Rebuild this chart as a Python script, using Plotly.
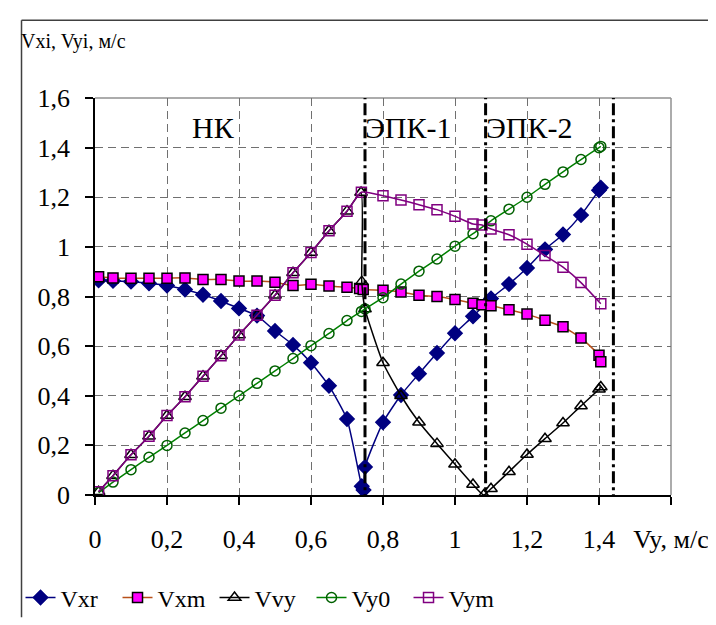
import plotly.graph_objects as go

# ---------------- data ----------------
vxr_x = [0.01, 0.05, 0.1, 0.15, 0.2, 0.25, 0.3, 0.35, 0.4, 0.45, 0.5, 0.55, 0.6, 0.65, 0.7,
         0.741, 0.746, 0.75, 0.8, 0.85, 0.9, 0.95, 1.0, 1.05, 1.1, 1.15, 1.2, 1.25, 1.3, 1.35, 1.4, 1.405]
vxr_y = [0.865, 0.863, 0.86, 0.853, 0.844, 0.828, 0.807, 0.782, 0.752, 0.723, 0.661, 0.605, 0.533, 0.44, 0.306,
         0.035, 0.02, 0.113, 0.293, 0.403, 0.489, 0.572, 0.652, 0.72, 0.792, 0.85, 0.915, 0.99, 1.05, 1.128, 1.228, 1.238]

vxm_x = [0.01, 0.05, 0.1, 0.15, 0.2, 0.25, 0.3, 0.35, 0.4, 0.45, 0.5, 0.55, 0.6, 0.65, 0.7,
         0.735, 0.745, 0.8, 0.85, 0.9, 0.95, 1.0, 1.05, 1.075, 1.1, 1.15, 1.2, 1.25, 1.3, 1.35, 1.4, 1.405]
vxm_y = [0.88, 0.875, 0.874, 0.874, 0.874, 0.875, 0.869, 0.869, 0.862, 0.862, 0.857, 0.844, 0.849, 0.842, 0.837,
         0.832, 0.828, 0.825, 0.818, 0.805, 0.80, 0.788, 0.773, 0.767, 0.763, 0.747, 0.729, 0.704, 0.678, 0.633, 0.563, 0.537]

vvy_x = [0.01, 0.05, 0.1, 0.15, 0.2, 0.25, 0.3, 0.35, 0.4, 0.45, 0.5, 0.55, 0.6, 0.65, 0.7, 0.739,
         0.741, 0.75, 0.8, 0.85, 0.9, 0.95, 1.0, 1.05, 1.08, 1.1, 1.15, 1.2, 1.25, 1.3, 1.35, 1.4, 1.405]
vvy_y = [0.013, 0.078, 0.162, 0.237, 0.32, 0.396, 0.479, 0.561, 0.645, 0.724, 0.805, 0.896, 0.977, 1.065, 1.144, 1.219,
         0.86, 0.75, 0.533, 0.40, 0.293, 0.207, 0.124, 0.042, 0.0, 0.025, 0.094, 0.163, 0.227, 0.29, 0.359, 0.426, 0.435]

vy0_x = [0.01, 0.05, 0.1, 0.15, 0.2, 0.25, 0.3, 0.35, 0.4, 0.45, 0.5, 0.55, 0.6, 0.65, 0.7, 0.74, 0.75,
         0.8, 0.85, 0.9, 0.95, 1.0, 1.05, 1.1, 1.15, 1.2, 1.25, 1.3, 1.35, 1.4, 1.405]
vy0_y = [0.01, 0.052, 0.102, 0.152, 0.2, 0.25, 0.3, 0.35, 0.4, 0.45, 0.5, 0.55, 0.602, 0.651, 0.703, 0.74, 0.75,
         0.795, 0.85, 0.902, 0.951, 1.003, 1.053, 1.105, 1.152, 1.2, 1.252, 1.302, 1.352, 1.4, 1.405]

vym_x = [0.01, 0.05, 0.1, 0.15, 0.2, 0.25, 0.3, 0.35, 0.4, 0.45, 0.5, 0.55, 0.6, 0.65, 0.7, 0.74,
         0.8, 0.85, 0.9, 0.95, 1.0, 1.05, 1.075, 1.1, 1.15, 1.2, 1.25, 1.3, 1.35, 1.405]
vym_y = [0.013, 0.078, 0.162, 0.237, 0.32, 0.396, 0.479, 0.561, 0.645, 0.724, 0.805, 0.896, 0.977, 1.065, 1.144, 1.22,
         1.206, 1.189, 1.17, 1.15, 1.123, 1.092, 1.088, 1.072, 1.049, 1.011, 0.965, 0.918, 0.856, 0.771]

x_tickvals = [0, 0.2, 0.4, 0.6, 0.8, 1.0, 1.2, 1.4, 1.6]
x_ticktext = ["0", "0,2", "0,4", "0,6", "0,8", "1", "1,2", "1,4", "Vy, м/с"]
y_tickvals = [0, 0.2, 0.4, 0.6, 0.8, 1.0, 1.2, 1.4, 1.6]
y_ticktext = ["0", "0,2", "0,4", "0,6", "0,8", "1", "1,2", "1,4", "1,6"]

zone_bounds = [0.75, 1.085, 1.44]
zone_labels = ["НК", "ЭПК-1", "ЭПК-2"]
zone_label_x = [0.33, 0.745, 1.08]
zone_label_anchor = ["center", "left", "left"]
zone_label_y = 1.48

FONT = "'Times New Roman', 'Liberation Serif', 'DejaVu Serif', serif"

fig = go.Figure()

def add(name, xs, ys, color, symbol, msize, mcolor, mline, lwidth=1.5):
    fig.add_trace(go.Scatter(
        x=xs, y=ys, name=name, mode="lines+markers",
        line=dict(color=color, width=lwidth, shape="spline", smoothing=0.5),
        marker=dict(symbol=symbol, size=msize, color=mcolor,
                    line=dict(color=mline, width=1.5)),
    ))

add("Vxr", vxr_x, vxr_y, "#000080", "diamond", 11, "#000080", "#000080")
add("Vxm", vxm_x, vxm_y, "#B8501A", "square", 10, "#FF00FF", "#000000")
add("Vvy", vvy_x, vvy_y, "#000000", "triangle-up-open", 11, "#000000", "#000000")
add("Vy0", vy0_x, vy0_y, "#008000", "circle-open", 10, "#006000", "#006000")
add("Vym", vym_x, vym_y, "#800080", "square-open", 10, "#800080", "#800080")

shapes = []
for b in zone_bounds:
    shapes.append(dict(type="line", xref="x", yref="y", x0=b, x1=b, y0=-0.045, y1=1.62,
                       line=dict(color="black", width=3, dash="12px,4px,3px,4px"), layer="above"))
# plot-area frame (top/right in gray)
shapes.append(dict(type="line", xref="paper", yref="paper", x0=0, x1=1, y0=1, y1=1,
                   line=dict(color="#909090", width=1.5), layer="below"))
shapes.append(dict(type="line", xref="paper", yref="paper", x0=1, x1=1, y0=0, y1=1,
                   line=dict(color="#909090", width=1.5), layer="below"))
# outer chart frame
L, R, T, B = 83, 663, 90, 499
def px(xp):
    return (xp - L) / (R - L)
def py(yp):
    return (B - yp) / (B - T)
shapes.append(dict(type="line", xref="paper", yref="paper", x0=px(9), x1=px(716), y0=py(10), y1=py(10),
                   line=dict(color="#404040", width=1.5)))
shapes.append(dict(type="line", xref="paper", yref="paper", x0=px(9), x1=px(9), y0=py(10), y1=py(625),
                   line=dict(color="#404040", width=1.5)))

annotations = [dict(xref="paper", yref="paper", x=px(6), y=py(32), xanchor="left", yanchor="middle",
                    text="Vxi, Vyi, м/с", showarrow=False, font=dict(family=FONT, size=20, color="black"))]
for t, xx, anc in zip(zone_labels, zone_label_x, zone_label_anchor):
    annotations.append(dict(xref="x", yref="y", x=xx, y=zone_label_y, xanchor=anc, yanchor="middle",
                            text=t, showarrow=False, font=dict(family=FONT, size=30, color="black")))

grid_dash = "8px,5px"
fig.update_layout(
    width=716, height=625,
    margin=dict(l=L, r=716 - R, t=T, b=625 - B, pad=0),
    paper_bgcolor="white", plot_bgcolor="white",
    font=dict(family=FONT, color="black"),
    shapes=shapes, annotations=annotations,
    showlegend=True,
    legend=dict(orientation="h", x=px(8), y=py(605), xanchor="left", yanchor="middle",
                font=dict(family=FONT, size=24, color="black"), bgcolor="rgba(0,0,0,0)",
                tracegroupgap=0, itemwidth=30, entrywidth=52, entrywidthmode="pixels"),
    xaxis=dict(range=[0, 1.6], tickvals=x_tickvals, ticktext=x_ticktext,
               showgrid=True, gridcolor="#707070", gridwidth=1, griddash=grid_dash,
               showline=True, linecolor="black", linewidth=1.5,
               ticks="outside", ticklen=8, tickcolor="black", tickwidth=1.5,
               tickfont=dict(family=FONT, size=26, color="black"), ticklabelstandoff=12,
               zeroline=False),
    yaxis=dict(range=[0, 1.6], tickvals=y_tickvals, ticktext=y_ticktext,
               showgrid=True, gridcolor="#707070", gridwidth=1, griddash=grid_dash,
               showline=True, linecolor="black", linewidth=1.5,
               ticks="outside", ticklen=8, tickcolor="black", tickwidth=1.5,
               tickfont=dict(family=FONT, size=26, color="black"), ticklabelstandoff=10,
               zeroline=False),
)

fig.write_html("out.html")
